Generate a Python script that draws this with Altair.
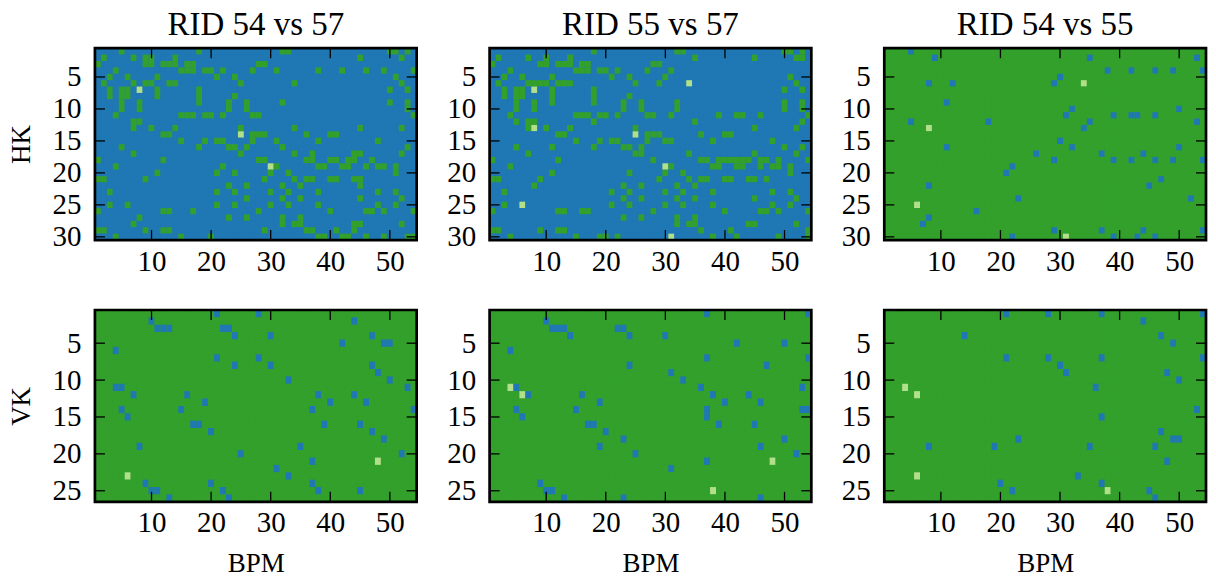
import altair as alt
import pandas as pd

alt.data_transformers.disable_max_rows()

COLS = 54
ROWS_HK = 30
ROWS_VK = 26
BLUE, GREEN, LIGHT = 0, 1, 2
PALETTE = ["#1f78b4", "#33a02c", "#b2df8a"]
FONT = "Liberation Serif"
X_TICKS = [10, 20, 30, 40, 50]
Y_TICKS_HK = [5, 10, 15, 20, 25, 30]
Y_TICKS_VK = [5, 10, 15, 20, 25]
PANEL_W = 322
PANEL_H = 192

# row -> columns of the minority colour
HK_54_57_GREEN = {
    1: [5, 18, 32, 33, 50, 51, 53], 2: [2, 7, 9, 10, 14, 45, 52],
    3: [1, 9, 10, 12, 13, 14, 16, 17, 28, 29],
    4: [4, 15, 16, 17, 19, 20, 22, 27, 31, 38, 42, 46, 49, 54],
    5: [3, 6, 11, 21, 24, 51], 6: [2, 7, 9, 10, 13, 14, 25, 34, 52],
    7: [3, 5, 6, 11, 18, 50, 53], 8: [3, 5, 6, 11, 18, 24],
    9: [5, 8, 18, 23, 26, 32, 50, 53], 10: [5, 8, 23, 26, 53],
    11: [4, 15, 16, 17, 19, 20, 22, 27, 28, 54], 12: [7, 8],
    13: [7, 10, 14, 25, 34, 45, 52], 14: [12, 13, 27, 28, 29, 36, 40, 41],
    15: [15, 19, 21, 22, 27, 31, 38, 48], 16: [5, 18, 23, 24, 26, 32, 53],
    17: [7, 25, 34, 37, 44, 45, 52], 18: [1, 12, 28, 29, 36, 37, 40, 41, 43, 44, 47],
    19: [4, 22, 31, 38, 39, 42, 43, 46, 48, 49, 51], 20: [11, 21, 24, 30, 33, 51],
    21: [1, 2, 9, 29, 34, 36, 37, 40, 41, 44, 45], 22: [23, 26, 32, 35, 45],
    23: [3, 21, 24, 30, 33, 38, 48, 51], 24: [26, 32, 35, 45, 52],
    25: [3, 6, 21, 24, 30, 33, 38, 48, 51], 26: [1, 12, 13, 17, 28, 40, 46, 47, 49, 54],
    27: [8, 23, 26, 32, 35], 28: [7, 32, 34, 35, 44, 45, 52],
    29: [1, 2, 9, 12, 13, 29, 36, 37, 41, 44],
    30: [4, 15, 20, 38, 39, 42, 43, 46, 49, 53, 54],
}
HK_54_57_LIGHT = [(8, 7), (25, 14), (30, 19)]

HK_55_57_GREEN = {
    1: [18, 32, 33, 50, 51, 53], 2: [2, 7, 10, 14, 35, 45, 52, 53],
    3: [1, 9, 10, 12, 13, 14, 16, 17, 28, 29], 4: [4, 15, 16, 17, 19, 20, 22, 27, 31],
    5: [3, 6, 11, 21, 24, 30, 51], 6: [2, 7, 8, 9, 10, 12, 13, 14, 25, 29, 52],
    7: [3, 5, 6, 11, 18, 50, 53], 8: [3, 5, 6, 11, 18, 24],
    9: [5, 8, 11, 18, 23, 26, 32, 50, 53], 10: [5, 8, 23, 26, 32, 50, 53],
    11: [4, 15, 16, 17, 19, 20, 22, 27, 28, 31, 39, 42, 43, 46, 54],
    12: [5, 7, 8, 18, 35, 53], 13: [7, 10, 14, 25, 45, 52],
    14: [12, 13, 27, 28, 29, 36, 40, 41], 15: [15, 19, 21, 22, 27, 30, 31, 38, 48],
    16: [5, 11, 18, 23, 24, 26, 50, 53], 17: [7, 25, 26, 34, 45, 52],
    18: [1, 12, 28, 36, 37, 39, 40, 41, 42, 43, 44, 46, 47, 49, 54],
    19: [4, 31, 38, 39, 42, 43, 46, 48, 49, 51], 20: [11, 24, 30, 33, 51],
    21: [1, 2, 9, 29, 34, 36, 37, 40, 41, 44, 45, 47], 22: [8, 23, 26, 32, 35],
    23: [3, 21, 24, 30, 33, 38, 48, 51], 24: [23, 26, 32, 35, 45, 52],
    25: [3, 21, 24, 30, 33, 38, 48, 51], 26: [1, 12, 13, 16, 17, 28, 40, 46, 47, 49, 54],
    27: [23, 26, 32, 35], 28: [32, 34, 35, 44, 45, 52],
    29: [1, 2, 9, 12, 13, 36, 41, 54], 30: [4, 15, 19, 20, 22, 38, 42, 49, 54],
}
HK_55_57_LIGHT = [(34, 6), (8, 7), (8, 13), (25, 14), (30, 19), (6, 25), (31, 30)]

HK_54_55_BLUE = {
    1: [5], 2: [9, 35, 53], 4: [38, 42, 46, 49, 54], 5: [30], 6: [8, 12, 29],
    9: [11], 10: [32, 50], 11: [31, 39, 42, 43, 46], 12: [5, 18, 35, 53], 13: [34],
    15: [30], 16: [11, 32, 50], 17: [26, 37, 44], 18: [29, 39, 42, 46, 49, 54],
    19: [22], 20: [21], 21: [47], 22: [8, 45], 24: [23, 52], 26: [16], 27: [8], 28: [7],
    29: [29, 37, 44, 54], 30: [22, 39, 43, 46],
}
HK_54_55_LIGHT = [(34, 6), (8, 13), (6, 25), (31, 30)]

VK_54_57_BLUE = {
    1: [21, 28], 2: [10, 44], 3: [11, 12, 13, 22, 23], 4: [24, 30, 47], 5: [42, 49, 50],
    6: [4], 7: [21, 28], 8: [24, 30, 47], 9: [48], 10: [33, 50], 11: [4, 5, 53],
    12: [7, 16, 38, 44], 13: [19, 40, 46], 14: [5, 15, 37, 54], 15: [6],
    16: [17, 18, 39, 45], 17: [20, 47], 18: [49], 19: [8, 35], 20: [25, 52], 21: [37],
    22: [31], 23: [33], 24: [9, 20, 37], 25: [10, 11, 22, 38, 45], 26: [13, 23],
}
VK_54_57_LIGHT = [(48, 21), (6, 23)]

VK_55_57_BLUE = {
    1: [37, 54], 2: [10], 3: [11, 12, 13, 22, 23], 4: [14, 24, 30], 5: [42, 50], 6: [4],
    7: [37, 54], 8: [24, 47], 9: [31], 10: [33], 11: [5, 36, 53], 12: [7, 16, 38, 44],
    13: [19, 40, 46], 14: [5, 15, 37, 53, 54], 15: [6, 37], 16: [17, 18, 39, 45],
    17: [20], 18: [23, 50], 19: [19, 46], 20: [25, 52], 21: [37], 22: [31], 24: [9],
    25: [10, 11], 26: [13, 23, 46],
}
VK_55_57_LIGHT = [(4, 11), (6, 12), (48, 21), (38, 25)]

VK_54_55_BLUE = {
    1: [21, 28, 37, 54], 2: [44], 4: [14, 47], 5: [49], 7: [21, 28, 37, 54], 8: [30],
    9: [31, 48], 10: [50], 11: [36], 14: [53], 15: [37], 17: [47], 18: [23, 49, 50],
    19: [8, 19, 35, 46], 21: [48], 23: [33], 24: [20, 37], 25: [22, 45], 26: [46],
}
VK_54_55_LIGHT = [(4, 11), (6, 12), (6, 23), (38, 25)]


def grid(n_rows, base, other, other_cells, light):
    recs = []
    lights = set(light)
    for r in range(1, n_rows + 1):
        marked = set(other_cells.get(r, []))
        for c in range(1, COLS + 1):
            v = base
            if c in marked:
                v = other
            if (c, r) in lights:
                v = LIGHT
            recs.append({"x": c - 0.5, "x2": c + 0.5, "y": r - 0.5, "y2": r + 0.5, "v": v})
    return pd.DataFrame(recs)


def panel(df, base, n_rows, yticks, title=None, ylabel=None, xlabel=None):
    xs = alt.Scale(domain=[0.5, COLS + 0.5], nice=False, zero=False)
    ys = alt.Scale(domain=[0.5, n_rows + 0.5], nice=False, zero=False, reverse=True)
    xaxis = alt.Axis(values=X_TICKS, tickSize=0, domain=False, grid=False, labelFont=FONT,
                     labelFontSize=29, labelColor="black", labelPadding=7, labelAngle=0,
                     title=xlabel, titleFont=FONT, titleFontSize=27, titleFontWeight="normal",
                     titleColor="black", titlePadding=13)
    yaxis = alt.Axis(values=yticks, tickSize=0, domain=False, grid=False, labelFont=FONT,
                     labelFontSize=29, labelColor="black", labelPadding=14, labelOverlap=False,
                     title=ylabel, titleFont=FONT, titleFontSize=27, titleFontWeight="normal",
                     titleColor="black", titlePadding=16)
    heat = alt.Chart(df).mark_rect().encode(
        x=alt.X("x:Q", scale=xs, axis=xaxis),
        x2="x2:Q",
        y=alt.Y("y:Q", scale=ys, axis=yaxis),
        y2="y2:Q",
        color=alt.Color("v:N", scale=alt.Scale(domain=[0, 1, 2], range=PALETTE), legend=None),
    )
    xt = pd.DataFrame({"t": X_TICKS})
    yt = pd.DataFrame({"t": yticks})
    tick = dict(color="black", strokeWidth=1.3)
    top = alt.Chart(xt).mark_rule(**tick).encode(x=alt.X("t:Q", scale=xs, axis=xaxis), y=alt.value(0), y2=alt.value(10))
    bot = alt.Chart(xt).mark_rule(**tick).encode(x=alt.X("t:Q", scale=xs, axis=xaxis), y=alt.value(PANEL_H - 10), y2=alt.value(PANEL_H))
    lft = alt.Chart(yt).mark_rule(**tick).encode(y=alt.Y("t:Q", scale=ys, axis=yaxis), x=alt.value(0), x2=alt.value(10))
    rgt = alt.Chart(yt).mark_rule(**tick).encode(y=alt.Y("t:Q", scale=ys, axis=yaxis), x=alt.value(PANEL_W - 10), x2=alt.value(PANEL_W))
    frame_df = pd.DataFrame({"a": [0.5], "b": [COLS + 0.5], "c": [0.5], "d": [n_rows + 0.5]})
    frame = alt.Chart(frame_df).mark_rect(filled=False, stroke="black", strokeWidth=2.7).encode(
        x=alt.X("a:Q", scale=xs, axis=xaxis), x2="b:Q",
        y=alt.Y("c:Q", scale=ys, axis=yaxis), y2="d:Q",
    )
    props = dict(width=PANEL_W, height=PANEL_H,
                 view=alt.ViewConfig(fill=PALETTE[base], stroke=None))
    if title:
        props["title"] = alt.TitleParams(title, font=FONT, fontSize=33, fontWeight="normal",
                                         color="black", anchor="middle", offset=5)
    return alt.layer(heat, top, bot, lft, rgt, frame).properties(**props)


p1 = panel(grid(ROWS_HK, BLUE, GREEN, HK_54_57_GREEN, HK_54_57_LIGHT), BLUE, ROWS_HK, Y_TICKS_HK,
           title="RID 54 vs 57", ylabel="HK")
p2 = panel(grid(ROWS_HK, BLUE, GREEN, HK_55_57_GREEN, HK_55_57_LIGHT), BLUE, ROWS_HK, Y_TICKS_HK,
           title="RID 55 vs 57")
p3 = panel(grid(ROWS_HK, GREEN, BLUE, HK_54_55_BLUE, HK_54_55_LIGHT), GREEN, ROWS_HK, Y_TICKS_HK,
           title="RID 54 vs 55")
p4 = panel(grid(ROWS_VK, GREEN, BLUE, VK_54_57_BLUE, VK_54_57_LIGHT), GREEN, ROWS_VK, Y_TICKS_VK,
           ylabel="VK", xlabel="BPM")
p5 = panel(grid(ROWS_VK, GREEN, BLUE, VK_55_57_BLUE, VK_55_57_LIGHT), GREEN, ROWS_VK, Y_TICKS_VK,
           xlabel="BPM")
p6 = panel(grid(ROWS_VK, GREEN, BLUE, VK_54_55_BLUE, VK_54_55_LIGHT), GREEN, ROWS_VK, Y_TICKS_VK,
           xlabel="BPM")

chart = alt.concat(p1, p2, p3, p4, p5, p6, columns=3, bounds="flush",
                   spacing=alt.RowColnumber(row=70, column=73)).properties(
    padding={"left": 0, "top": 0, "right": 0, "bottom": 0},
    background="white",
)

chart.save("out.html", embed_options={"renderer": "svg", "actions": False})
